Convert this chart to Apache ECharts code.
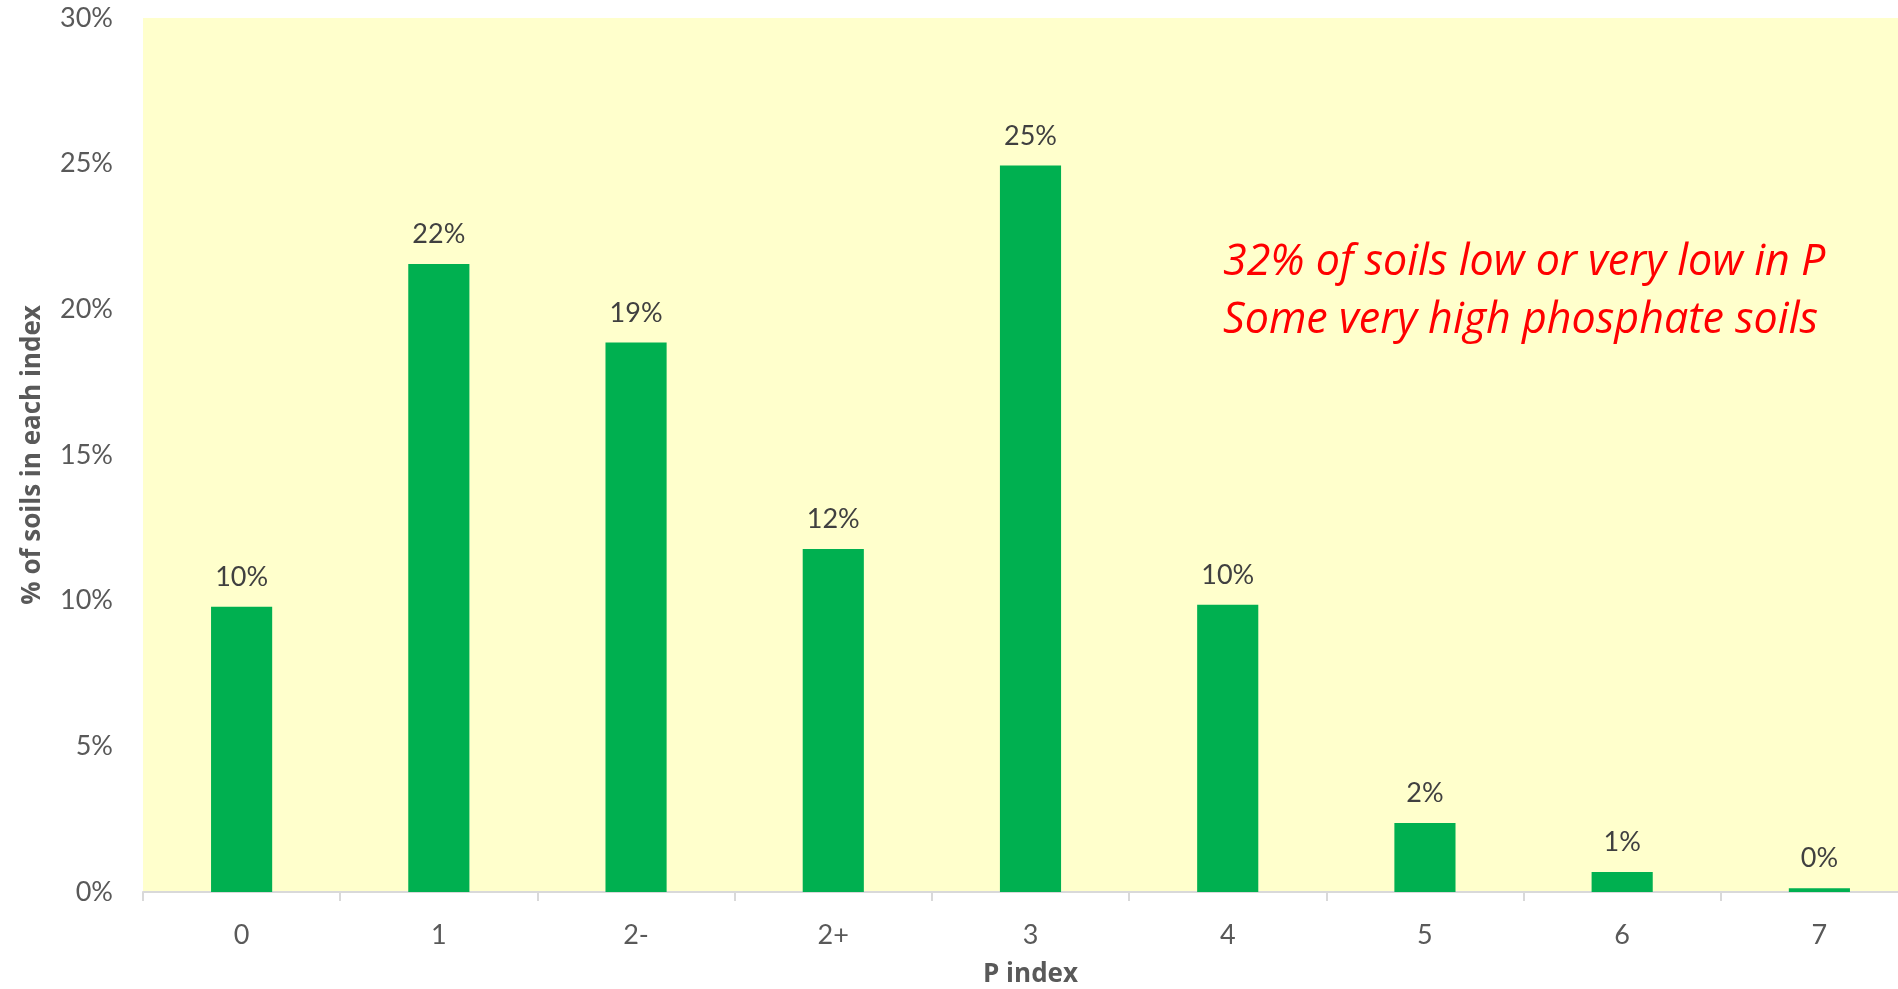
<!DOCTYPE html>
<html>
<head>
<meta charset="utf-8">
<script src="https://cdn.jsdelivr.net/npm/echarts@6/dist/echarts.min.js"></script>
<style>
html,body{margin:0;padding:0;background:#fff;overflow:hidden;}
#chart{width:1898px;height:989px;}
</style>
</head>
<body>
<div id="chart"></div>
<script>
const categories = ['0', '1', '2-', '2+', '3', '4', '5', '6', '7'];
const percentValues = [9.79, 21.56, 18.86, 11.77, 24.94, 9.86, 2.37, 0.69, 0.13];
const yTicks = [0, 5, 10, 15, 20, 25, 30];
const xAxisTitle = 'P index';
const yAxisTitle = '% of soils in each index';
const noteLines = ['32% of soils low or very low in P', 'Some very high phosphate soils'];

const FONT = 'Lato';
const TITLE_FONT = 'Open Sans';
const chart = echarts.init(document.getElementById('chart'));
chart.setOption({
  backgroundColor: '#ffffff',
  animation: false,
  grid: { left: 143, right: -20, top: 18, bottom: 97, containLabel: false,
          outerBoundsMode: 'none',
          show: true, backgroundColor: '#FFFFCC', borderWidth: 0 },
  xAxis: {
    type: 'category',
    data: categories,
    name: xAxisTitle,
    nameLocation: 'middle',
    nameGap: 70,
    nameTextStyle: { fontFamily: TITLE_FONT, fontSize: 26, fontWeight: 'bold', color: '#595959' },
    axisLine: { show: true, lineStyle: { color: '#D9D9D9', width: 2 } },
    axisTick: { show: true, length: 9, alignWithLabel: false, lineStyle: { color: '#D9D9D9', width: 2 } },
    axisLabel: { fontFamily: FONT, fontSize: 27, color: '#595959', margin: 30 },
    splitLine: { show: false }
  },
  yAxis: {
    type: 'value',
    min: yTicks[0],
    max: yTicks[yTicks.length - 1],
    interval: yTicks[1] - yTicks[0],
    name: yAxisTitle,
    nameLocation: 'middle',
    nameGap: 97,
    nameRotate: 90,
    nameTextStyle: { fontFamily: TITLE_FONT, fontSize: 26, fontWeight: 'bold', color: '#595959' },
    axisLine: { show: false },
    axisTick: { show: false },
    splitLine: { show: false },
    axisLabel: { fontFamily: FONT, fontSize: 27, color: '#595959', margin: 30,
                 formatter: v => v + '%' }
  },
  series: [{
    type: 'bar',
    data: percentValues,
    barWidth: '31%',
    itemStyle: { color: '#00B050' },
    label: {
      show: true, position: 'top', distance: 16,
      fontFamily: FONT, fontSize: 27, color: '#404040',
      formatter: p => Math.round(p.value) + '%'
    }
  }],
  graphic: noteLines.map((t, i) => ({
    type: 'text',
    left: 1223,
    top: 241 + i * 58,
    style: { text: t, fontFamily: TITLE_FONT, fontSize: 43, fontStyle: 'italic', fill: '#FF0000' }
  }))
});
</script>
</body>
</html>
